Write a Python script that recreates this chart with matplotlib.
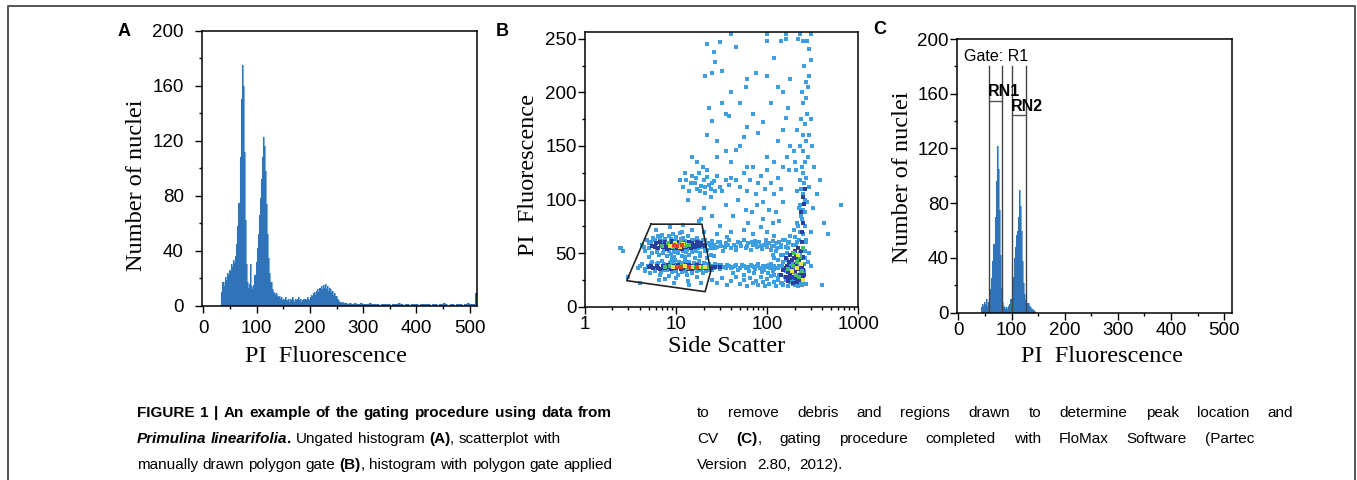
import numpy as np
import matplotlib
matplotlib.use("Agg")
import matplotlib.pyplot as plt
from matplotlib.ticker import MultipleLocator, LogLocator, NullFormatter
from matplotlib.lines import Line2D

plt.rcParams['font.family'] = ['Liberation Sans', 'DejaVu Sans']

W, H = 1357, 480

# ---------------- data: panel A (ungated histogram) ----------------
a_edges = np.concatenate([np.arange(34, 263, 2), np.arange(266, 511, 4), [513]])
a_counts = [10, 17, 14, 21, 19, 24, 22, 26, 25, 30,
            28, 33, 31, 36, 45, 58, 75, 108, 150, 175,
            160, 112, 62, 30, 17, 13, 16, 30, 14, 12,
            15, 22, 32, 42, 52, 66, 78, 92, 108, 123,
            116, 98, 74, 52, 35, 24, 17, 12, 10, 9,
            8, 9, 7, 6, 7, 5, 6, 4,
            5, 4, 6, 4, 5, 3, 5, 4, 6, 4, 3, 5, 4, 5, 6, 4, 5, 3, 4, 5, 5, 4, 6, 5, 4,
            6, 8, 7, 9, 10, 8, 11, 12, 10, 13,
            14, 12, 15, 13, 16, 12, 14, 11, 13, 12,
            10, 11, 8, 9, 7,
            5, 4, 3, 3, 2, 3,
            # tail 262-510, 4 channel bins
            2, 2, 1, 2, 1, 2, 1, 1, 2, 1, 1, 1, 2, 1, 1, 1, 1, 0, 1, 1,
            1, 1, 0, 1, 1, 1, 2, 1, 0, 1, 1, 0, 1, 1, 1, 0, 1, 1, 1, 1,
            1, 0, 1, 1, 0, 1, 1, 2, 1, 0, 1, 1, 0, 1, 1, 1, 0, 1, 2, 1,
            1, 1,
            9]

# ---------------- data: panel C (gated histogram) ----------------
c_edges = np.arange(42, 145, 2)
c_counts = [4, 6, 5, 8, 6, 10, 5, 8, 10, 17,
            25, 38, 50, 70, 96, 122, 105, 75, 42, 18,
            8, 5, 4, 3, 4, 3, 5, 6, 10, 18,
            26, 40, 48, 57, 60, 70, 90, 78, 60, 38,
            22, 14, 9, 6, 7, 5, 4, 3, 3, 2,
            1]
region_bounds = [58, 82, 101, 127]
region_names = ["RN1", "RN2"]
region_bar_y = [155, 144.5]
region_top = 180

# ---------------- data: panel B (side scatter vs PI) ----------------
gate_polygon = [(5.3, 77), (19.2, 77), (24, 33), (20.8, 14), (2.87, 24.3)]

sparse_points = [
    # upper band
    (4.2, 58), (4.6, 52), (4.8, 62), (5.0, 55), (5.3, 60), (5.5, 50), (5.6, 64), (5.9, 57), (6.2, 53), (6.3, 66),
    (6.5, 48), (6.8, 61), (7.0, 67), (7.2, 50), (7.6, 63), (8.0, 47), (8.3, 66), (8.8, 49), (9.2, 68), (9.6, 46),
    (10, 65), (10.5, 50), (11, 69), (11.6, 47), (12, 64), (12.8, 51), (13.5, 66), (14, 48), (14.8, 62), (15.5, 53),
    (16, 58), (16.8, 64), (17.5, 55), (18.2, 50), (19, 60), (20, 56), (21, 62), (22, 53), (23.5, 58), (25, 61),
    (4.4, 56), (5.1, 59), (5.8, 62), (6.1, 51), (6.7, 64), (7.3, 53), (7.9, 58), (8.4, 52), (8.9, 63), (9.4, 51),
    (9.9, 62), (10.6, 53), (11.3, 63), (11.9, 52), (12.6, 61), (13.2, 53), (14.2, 60), (15, 51), (15.8, 62), (16.5, 52),
    (17.2, 61), (18.6, 56), (19.8, 62), (20.8, 52), (22.5, 59), (24, 55), (26, 58), (28, 56), (30, 60), (34, 56),
    (37, 58), (45, 56), (50, 59), (60, 57), (68, 60), (76, 58), (85, 57), (98, 59), (112, 57), (125, 59),
    (27, 55), (29, 60), (31, 57), (33, 52), (35, 59), (38, 62), (40, 55), (43, 58), (46, 53), (48, 60),
    (52, 57), (55, 62), (58, 55), (62, 59), (66, 53), (70, 58), (74, 61), (78, 56), (82, 60), (88, 54),
    (92, 58), (96, 62), (100, 56), (105, 59), (110, 53), (115, 61), (120, 57), (128, 55), (135, 60), (142, 58),
    (150, 62), (160, 56), (170, 59),
    # lower band
    (3.8, 36), (4.2, 40), (4.5, 33), (4.9, 38), (5.2, 31), (5.5, 42), (5.8, 35), (6.2, 40), (6.6, 30), (7, 43),
    (7.4, 34), (7.8, 39), (8.3, 29), (8.8, 42), (9.3, 33), (9.8, 44), (10.4, 30), (11, 41), (11.7, 32), (12.4, 43),
    (13.2, 30), (14, 42), (15, 31), (16, 40), (17, 33), (18, 43), (19.5, 31), (21, 40), (22.5, 34), (24, 38),
    (4.0, 38), (4.6, 35), (5.3, 40), (5.9, 33), (6.4, 41), (6.9, 32), (7.3, 40), (8.0, 34), (8.5, 41), (9.0, 32),
    (9.6, 41), (10.1, 33), (10.8, 42), (11.5, 33), (12.2, 41), (13, 33), (13.8, 41), (14.8, 33), (15.8, 41), (16.8, 34),
    (17.8, 41), (18.8, 34), (20, 41), (21.5, 33), (23, 40), (25, 34), (27, 40), (29, 37), (31, 39), (35, 36),
    (38, 38), (42, 37), (46, 39), (50, 36), (56, 38), (61, 37), (66, 39), (71, 37), (77, 38), (83, 36),
    (90, 38), (96, 37), (104, 39), (112, 37), (120, 38), (130, 36), (140, 38),
    (26, 36), (28, 39), (30, 35), (33, 37), (36, 39), (40, 36), (44, 38), (48, 34), (53, 39), (58, 36),
    (63, 33), (68, 38), (74, 35), (80, 40), (86, 36), (93, 34), (100, 38), (108, 36), (115, 33),
    # around the gate
    (5, 46), (6, 72), (7.5, 26), (8.5, 74), (9, 45), (10, 27), (11.5, 70), (12.5, 46), (13.5, 24), (15, 72),
    (16, 45), (17, 28), (18.5, 47), (20, 70), (6.5, 25), (12, 76), (3, 28), (9.5, 22), (14, 20), (19, 22),
    (4, 22), (2.5, 55), (2.6, 52), (22, 45), (24, 48), (26, 47), (18, 80), (19, 82),
    # floor
    (25, 25), (28, 22), (32, 27), (36, 20), (40, 24), (45, 28), (50, 21), (55, 25), (60, 19), (65, 27),
    (70, 22), (75, 24), (80, 20), (85, 28), (90, 23), (95, 19), (100, 26), (105, 21), (110, 29), (118, 23),
    (125, 19), (130, 27), (140, 22), (150, 20), (160, 25), (170, 19), (180, 23), (190, 21), (200, 20), (210, 24),
    (220, 19), (230, 22), (240, 20), (250, 23), (270, 21), (42, 31), (56, 30), (72, 31), (88, 32), (102, 31),
    (120, 30),
    # right cluster
    (110, 40), (115, 48), (120, 35), (125, 52), (130, 44), (135, 30), (140, 56), (145, 38), (150, 48), (155, 62),
    (160, 33), (165, 44), (170, 55), (175, 28), (180, 66), (185, 40), (190, 50), (195, 72), (200, 35), (205, 58),
    (210, 45), (215, 78), (220, 30), (225, 62), (230, 50), (235, 85), (240, 40), (245, 68), (250, 55), (255, 33),
    (260, 45), (265, 62), (280, 42), (290, 50), (300, 38),
    (130, 25), (145, 22), (155, 28), (165, 50), (175, 60), (185, 26), (195, 32), (205, 24), (215, 35), (225, 40),
    (235, 32), (245, 26), (255, 40), (262, 52), (180, 38), (150, 42), (140, 48), (200, 65), (230, 70), (260, 75),
    (270, 60), (215, 60), (190, 58), (120, 45), (135, 38),
    # vertical streak
    (220, 75), (240, 82), (250, 90), (230, 95), (260, 100), (245, 105), (235, 110), (255, 115), (270, 120), (250, 125),
    (240, 130), (262, 135), (280, 140), (250, 145), (230, 150), (270, 155), (245, 160), (260, 170), (235, 175), (275, 180),
    (250, 190), (265, 195), (240, 200), (280, 205), (270, 210), (290, 215), (255, 225), (300, 230), (285, 240), (275, 248),
    (260, 88), (275, 98), (230, 118), (205, 128), (215, 165), (290, 160), (300, 175), (225, 92), (210, 108), (285, 112),
    # G2 cluster
    (12, 112), (13, 118), (14, 108), (15, 122), (16, 115), (17, 110), (18, 125), (19, 113), (20, 118), (21, 106),
    (22, 121), (23, 114), (24, 110), (26, 117), (28, 122), (30, 112), (32, 108), (35, 118), (38, 114), (40, 120),
    (14.5, 115), (16.5, 120), (18.5, 108), (20.5, 112), (25, 115), (27, 108), (13.5, 100), (11, 118), (12.5, 125), (19.5, 130),
    (17, 135), (15, 140), (22, 128), (24, 102),
    # middle scatter
    (45, 118), (50, 112), (55, 125), (60, 108), (65, 118), (70, 130), (75, 105), (80, 115), (85, 122), (90, 98),
    (95, 110), (100, 128), (110, 115), (120, 105), (130, 120), (140, 110), (150, 98), (35, 95), (42, 85), (48, 100),
    (58, 90), (68, 88), (78, 95), (90, 82), (105, 90), (115, 78), (125, 88), (135, 80), (30, 75), (40, 70),
    (55, 72), (70, 68), (85, 74), (100, 70), (120, 66), (25, 85), (20, 92), (28, 68), (36, 65), (62, 78),
    # upper sparse
    (21, 215), (22, 245), (26, 238), (27, 228), (25, 218), (32, 220), (30, 247), (45, 242), (40, 200), (60, 212),
    (58, 205), (75, 218), (100, 215), (120, 232), (140, 248), (160, 250), (220, 250), (250, 248), (100, 248), (35, 180),
    (38, 178), (25, 173), (22, 160), (28, 155), (50, 150), (45, 146), (35, 145), (55, 158), (60, 168), (80, 162),
    (90, 172), (110, 190), (130, 155), (150, 165), (160, 176), (180, 150), (195, 145), (100, 140), (120, 135), (175, 128),
    (200, 135), (170, 185), (50, 190), (70, 180), (150, 200), (130, 205), (180, 212), (23, 185), (32, 190), (60, 130),
    (40, 135), (28, 140), (150, 130), (165, 140), (40, 254), (100, 254), (160, 254), (230, 254), (300, 254),
    # outliers
    (650, 95), (420, 78), (460, 68), (380, 118), (350, 105), (320, 92), (400, 20), (2.4, 55), (300, 70), (310, 150),
    (330, 130),
]

dark_points = [
    (5.5, 57), (6, 59), (6.4, 55), (6.8, 58), (7.2, 56), (7.5, 60), (8, 54), (8.5, 58), (9, 61), (9.5, 55),
    (10, 57), (10.8, 60), (11.5, 54), (12.2, 58), (13, 56), (13.8, 60), (14.5, 55), (15.2, 58), (16.2, 56), (17, 60),
    (18, 57), (19.5, 58),
    (5.8, 56), (6.6, 60), (7.8, 57), (8.8, 55), (9.7, 59), (10.5, 55), (11.8, 59), (13.4, 57), (14.8, 59), (16.6, 57),
    (18.6, 59), (21, 57),
    (5, 37), (5.6, 36), (6.1, 38), (6.6, 35), (7.1, 38), (7.6, 36), (8.1, 39), (8.7, 35), (9.2, 38), (9.9, 36),
    (10.6, 39), (11.3, 35), (12, 37), (12.8, 39), (13.6, 35), (14.5, 38), (15.5, 36), (16.5, 38), (17.8, 36), (19, 38),
    (20.5, 36), (22, 37), (24, 36.5), (27, 37),
    (5.3, 38), (6.3, 36.5), (7.3, 36), (8.4, 37.5), (9.5, 36), (10.9, 38), (12.5, 36), (14, 38.5), (15, 35.5), (17, 38.5),
    (18.5, 35.8), (20, 37.5), (21.5, 36), (25, 37.5), (30, 37),
    (140, 30), (150, 34), (160, 28), (165, 38), (170, 32), (175, 42), (180, 30), (185, 36), (190, 28), (195, 45),
    (200, 33), (205, 40), (210, 26), (215, 48), (220, 36), (225, 42), (230, 30), (235, 52), (240, 38), (245, 46),
    (250, 28), (160, 45), (180, 48), (200, 52), (220, 55), (240, 60), (230, 25), (170, 24), (190, 22), (210, 23),
    (175, 36), (185, 44), (195, 38), (205, 46), (215, 30), (225, 35), (235, 45), (245, 34), (255, 30), (200, 27),
    (180, 27), (160, 36),
    (240, 70), (250, 78), (235, 88), (255, 96), (245, 102), (260, 110),
]

green_points = [
    (7, 57), (8.2, 59), (9.2, 56), (10.4, 58), (11.2, 60), (12.5, 57), (14, 58),
    (7.5, 37), (8.6, 38), (11.5, 38), (13.2, 36.5), (16, 37.5), (19.5, 37), (23, 37.5),
    (170, 35), (190, 38), (205, 30), (215, 42), (230, 46), (240, 33), (225, 28), (195, 50), (245, 55),
]

yellow_points = [
    (8.6, 57), (9.8, 59), (10.9, 56), (12, 58.5),
    (9.2, 37), (12.4, 37.8), (15, 36.8), (18, 37.5), (21, 37),
    (185, 33), (210, 36), (235, 40), (220, 48), (250, 25),
]

red_points = [
    (9.4, 57.5), (10.2, 57), (11.5, 57.8),
    (10.3, 37.2), (11.4, 36.8), (13.8, 37.5), (16.8, 37),
]

# ---------------- caption ----------------
caption_left = [
    ([("FIGURE 1 | An example of the gating procedure using data from", "b")], 612),
    ([("Primulina linearifolia", "bi"), (".", "b"), (" Ungated histogram ", "r"), ("(A)", "b"),
      (", scatterplot with", "r")], 557),
    ([("manually drawn polygon gate ", "r"), ("(B)", "b"), (", histogram with polygon gate applied", "r")], 612),
]
caption_right = [
    ([("to remove debris and regions drawn to determine peak location and", "r")], 1293),
    ([("CV ", "r"), ("(C)", "b"), (", gating procedure completed with FloMax Software (Partec", "r")], 1254),
    ([("Version 2.80, 2012).", "r")], 843),
]

BLUE = '#2f73b8'
TICK_SIZE = 13.5
LABEL_FONT = dict(family='Liberation Serif', fontsize=17.5)


def fx(x):
    return x / W


def fy(y):
    return 1 - y / H


def ax_rect(left, top, right, bottom):
    return [fx(left), fy(bottom), (right - left) / W, (bottom - top) / H]


def style_axes(ax, xpad, ypad):
    for s in ax.spines.values():
        s.set_linewidth(1.1)
        s.set_color('black')
    ax.tick_params(which='both', direction='out', width=1.0, labelsize=TICK_SIZE,
                   top=False, right=False, colors='black')
    ax.tick_params(which='major', length=5)
    ax.tick_params(which='minor', length=2.5)
    ax.tick_params(axis='x', pad=xpad)
    ax.tick_params(axis='y', pad=ypad)


fig = plt.figure(figsize=(W / 100, H / 100), dpi=100)

# panel A
axA = fig.add_axes(ax_rect(201.7, 30.7, 476.7, 305.7))
axA.stairs(a_counts, a_edges, fill=False, color='#7eb0de', linewidth=0.8)
axA.stairs(a_counts, a_edges, fill=True, color=BLUE, linewidth=0)
axA.set_xlim(-3, 513)
axA.set_ylim(0, 200)
axA.xaxis.set_major_locator(MultipleLocator(100))
axA.xaxis.set_minor_locator(MultipleLocator(50))
axA.yaxis.set_major_locator(MultipleLocator(40))
axA.yaxis.set_minor_locator(MultipleLocator(20))
style_axes(axA, 5, 8)

# panel B
axB = fig.add_axes(ax_rect(585, 32.3, 858.3, 306.7))
groups = [(sparse_points, '#3d9fe2'), (dark_points, '#2a3f9c'), (green_points, '#45bf63'),
          (yellow_points, '#f2e33a'), (red_points, '#e4412b')]
for pts, col in groups:
    arr = np.array(pts)
    axB.scatter(arr[:, 0], arr[:, 1], s=5.5, marker='s', color=col, linewidths=0)
poly = np.array(gate_polygon + [gate_polygon[0]])
axB.plot(poly[:, 0], poly[:, 1], color='#222222', linewidth=1.2)
axB.set_xscale('log')
axB.set_xlim(1, 1000)
axB.set_ylim(0, 256)
axB.set_xticks([1, 10, 100, 1000], ['1', '10', '100', '1000'])
axB.xaxis.set_minor_locator(LogLocator(base=10, subs=np.arange(2, 10)))
axB.xaxis.set_minor_formatter(NullFormatter())
axB.yaxis.set_major_locator(MultipleLocator(50))
axB.yaxis.set_minor_locator(MultipleLocator(25))
style_axes(axB, 2, 1)

# panel C
axC = fig.add_axes(ax_rect(957.3, 39, 1231.7, 312.7))
axC.stairs(c_counts, c_edges, fill=False, color='#7eb0de', linewidth=0.8)
axC.stairs(c_counts, c_edges, fill=True, color=BLUE, linewidth=0)
for xb in region_bounds:
    axC.plot([xb, xb], [0, region_top], color='#444444', linewidth=1.0)
for i, name in enumerate(region_names):
    x0, x1 = region_bounds[2 * i], region_bounds[2 * i + 1]
    axC.plot([x0, x1], [region_bar_y[i], region_bar_y[i]], color='#555555', linewidth=1.0)
    axC.text(x0 - 3, region_bar_y[i] + 1, name, fontsize=11.5, fontweight='bold', ha='left', va='bottom')
axC.text(0.025, 0.965, "Gate: R1", transform=axC.transAxes, fontsize=11.5, ha='left', va='top')
axC.set_xlim(-2, 514)
axC.set_ylim(0, 200)
axC.xaxis.set_major_locator(MultipleLocator(100))
axC.xaxis.set_minor_locator(MultipleLocator(50))
axC.yaxis.set_major_locator(MultipleLocator(40))
axC.yaxis.set_minor_locator(MultipleLocator(20))
style_axes(axC, 2, 1)

# axis labels and panel letters
fig.text(fx(137), fy(185), "Number of nuclei", rotation=90, ha='center', va='center', **LABEL_FONT)
fig.text(fx(326), fy(357), "PI  Fluorescence", ha='center', va='center', **LABEL_FONT)
fig.text(fx(528), fy(175), "PI  Fluorescence", rotation=90, ha='center', va='center', **LABEL_FONT)
fig.text(fx(727), fy(347), "Side Scatter", ha='center', va='center', **LABEL_FONT)
fig.text(fx(902), fy(177), "Number of nuclei", rotation=90, ha='center', va='center', **LABEL_FONT)
fig.text(fx(1102), fy(357), "PI  Fluorescence", ha='center', va='center', **LABEL_FONT)
for letter, lx, ly in [("A", 124, 31), ("B", 502, 31), ("C", 880, 30)]:
    fig.text(fx(lx), fy(ly), letter, fontsize=13, fontweight='bold', ha='center', va='center')

# frame around figure
fig.add_artist(Line2D([fx(7.5), fx(7.5), fx(1355), fx(1355)], [fy(490), fy(6), fy(6), fy(490)],
                      transform=fig.transFigure, color='#555555', linewidth=1.4))

# justified caption
STY = {'r': {}, 'b': {'fontweight': 'bold'}, 'bi': {'fontweight': 'bold', 'fontstyle': 'italic'}}
CAP_SIZE = 11
renderer = fig.canvas.get_renderer()


def text_width(txt, st):
    t = fig.text(0, 0, txt, fontsize=CAP_SIZE, **STY[st])
    w = t.get_window_extent(renderer).width
    t.remove()
    return w


SPACE_MIN = text_width("a a", 'r') - text_width("aa", 'r')


def split_words(runs):
    words, cur = [], []
    for text, st in runs:
        parts = text.split(' ')
        for i, p in enumerate(parts):
            if i > 0 and cur:
                words.append(cur)
                cur = []
            if p:
                cur.append((p, st))
    if cur:
        words.append(cur)
    return words


def caption_line(runs, x0, x1, ybase):
    words = split_words(runs)
    measured = [[(txt, st, text_width(txt, st)) for txt, st in w] for w in words]
    widths = [sum(p[2] for p in parts) for parts in measured]
    gap = (x1 - x0 - sum(widths)) / max(len(words) - 1, 1)
    gap = max(gap, SPACE_MIN)
    x = x0
    for parts, wd in zip(measured, widths):
        xx = x
        for txt, st, wpx in parts:
            fig.text(fx(xx), fy(ybase), txt, fontsize=CAP_SIZE, ha='left', va='baseline', **STY[st])
            xx += wpx
        x += wd + gap


for i, (runs, xend) in enumerate(caption_left):
    caption_line(runs, 137, xend, 417 + 26 * i)
for i, (runs, xend) in enumerate(caption_right):
    caption_line(runs, 697, xend, 417 + 26 * i)

fig.savefig("out.png", dpi=100)
